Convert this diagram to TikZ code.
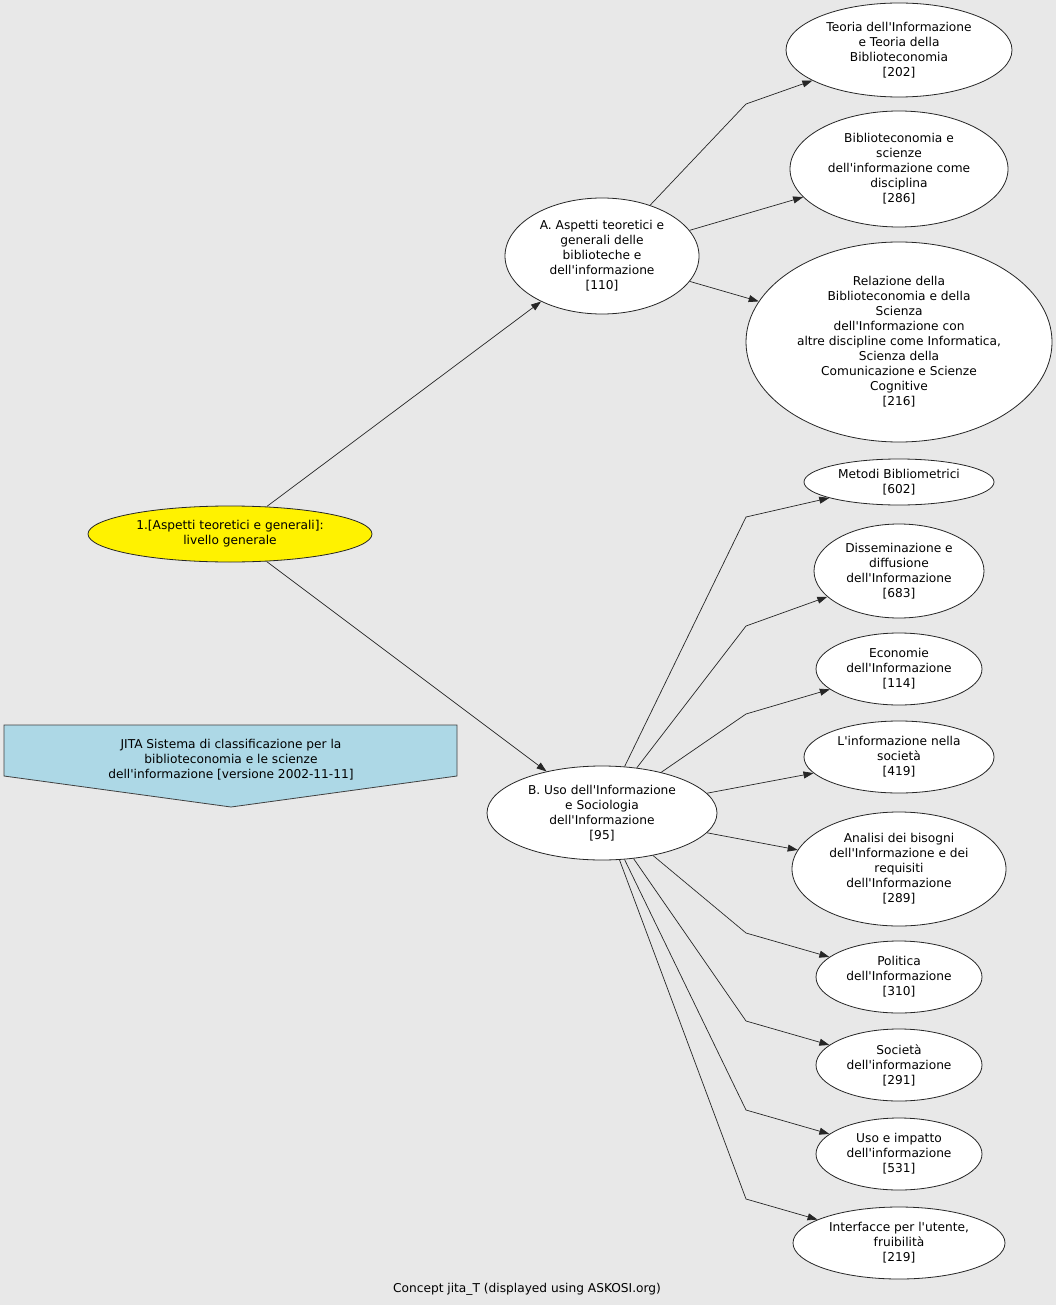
\documentclass[tikz,border=0pt]{standalone}
\usepackage{fontspec}
\setmainfont{DejaVu Sans}[Ligatures=TeXOff]
\usetikzlibrary{shapes.geometric,arrows.meta}
\definecolor{bggray}{RGB}{232,232,232}
\definecolor{notecol}{RGB}{173,216,230}

\begin{document}
\begin{tikzpicture}[x=1pt, y=-1pt,
	concept/.style={draw=black!85, line width=0.8pt, fill=white, ellipse, inner sep=0pt, align=center, font=\fontsize{12.2}{15}\selectfont},
	link/.style={line width=0.7pt, draw=black!85, -{Triangle[length=10pt, width=7pt]}}]
				\fill[bggray] (0, 0) rectangle (1056, 1305);
				\useasboundingbox (0, 0) rectangle (1056, 1305);
				\node[concept, fill=yellow, minimum width=284pt, minimum height=56pt] (R)at(230, 534) {1.[Aspetti teoretici e generali]:\\livello generale};
				\node[concept, minimum width=194pt, minimum height=116pt] (A)at(602, 256) {A. Aspetti teoretici e\\generali delle\\biblioteche e\\dell'informazione\\{[110]}};
				\node[concept, minimum width=230pt, minimum height=94pt] (B)at(602, 813) {B. Uso dell'Informazione\\e Sociologia\\dell'Informazione\\{[95]}};
				\node[concept, minimum width=226pt, minimum height=94pt] (A1)at(899, 50) {Teoria dell'Informazione\\e Teoria della\\Biblioteconomia\\{[202]}};
				\node[concept, minimum width=218pt, minimum height=116pt] (A2)at(899, 169) {Biblioteconomia e\\scienze\\dell'informazione come\\disciplina\\{[286]}};
				\node[concept, minimum width=306pt, minimum height=200pt] (A3)at(899, 342) {Relazione della\\Biblioteconomia e della\\Scienza\\dell'Informazione con\\altre discipline come Informatica,\\Scienza della\\Comunicazione e Scienze\\Cognitive\\{[216]}};
				\node[concept, minimum width=190pt, minimum height=46pt] (B1)at(899, 482) {Metodi Bibliometrici\\{[602]}};
				\node[concept, minimum width=170pt, minimum height=94pt] (B2)at(899, 571) {Disseminazione e\\diffusione\\dell'Informazione\\{[683]}};
				\node[concept, minimum width=166pt, minimum height=72pt] (B3)at(899, 669) {Economie\\dell'Informazione\\{[114]}};
				\node[concept, minimum width=190pt, minimum height=72pt] (B4)at(899, 757) {L'informazione nella\\società\\{[419]}};
				\node[concept, minimum width=214pt, minimum height=114pt] (B5)at(899, 869) {Analisi dei bisogni\\dell'Informazione e dei\\requisiti\\dell'Informazione\\{[289]}};
				\node[concept, minimum width=166pt, minimum height=72pt] (B6)at(899, 977) {Politica\\dell'Informazione\\{[310]}};
				\node[concept, minimum width=166pt, minimum height=72pt] (B7)at(899, 1065) {Società\\dell'informazione\\{[291]}};
				\node[concept, minimum width=166pt, minimum height=72pt] (B8)at(899, 1154) {Uso e impatto\\dell'informazione\\{[531]}};
				\node[concept, minimum width=212pt, minimum height=72pt] (B9)at(899, 1243) {Interfacce per l'utente,\\fruibilità\\{[219]}};
				% note
				\draw[fill=notecol, draw=black!75, line width=0.8pt] (4, 725) -- (457, 725) -- (457, 776) -- (231, 807) -- (4, 776) -- cycle;
				\node[align=center, font=\fontsize{12.2}{15}\selectfont] (N)at(231, 760) {JITA Sistema di classificazione per la\\biblioteconomia e le scienze\\dell'informazione [versione 2002-11-11]};
				\node[font=\fontsize{12.2}{15}\selectfont] (C)at(527, 1289) {Concept jita\_T (displayed using ASKOSI.org)};
				% links
				\draw[link] (R) -- (A);
				\draw[link] (R) -- (B);
				\draw[link] (A) -- (746, 104) -- (A1);
				\draw[link] (A) -- (A2);
				\draw[link] (A) -- (A3);
				\draw[link] (B) -- (746, 517) -- (B1);
				\draw[link] (B) -- (746, 626) -- (B2);
				\draw[link] (B) -- (746, 714) -- (B3);
				\draw[link] (B) -- (B4);
				\draw[link] (B) -- (B5);
				\draw[link] (B) -- (746, 933) -- (B6);
				\draw[link] (B) -- (746, 1021) -- (B7);
				\draw[link] (B) -- (746, 1110) -- (B8);
				\draw[link] (B) -- (746, 1199) -- (B9);
			\end{tikzpicture}
\end{document}
